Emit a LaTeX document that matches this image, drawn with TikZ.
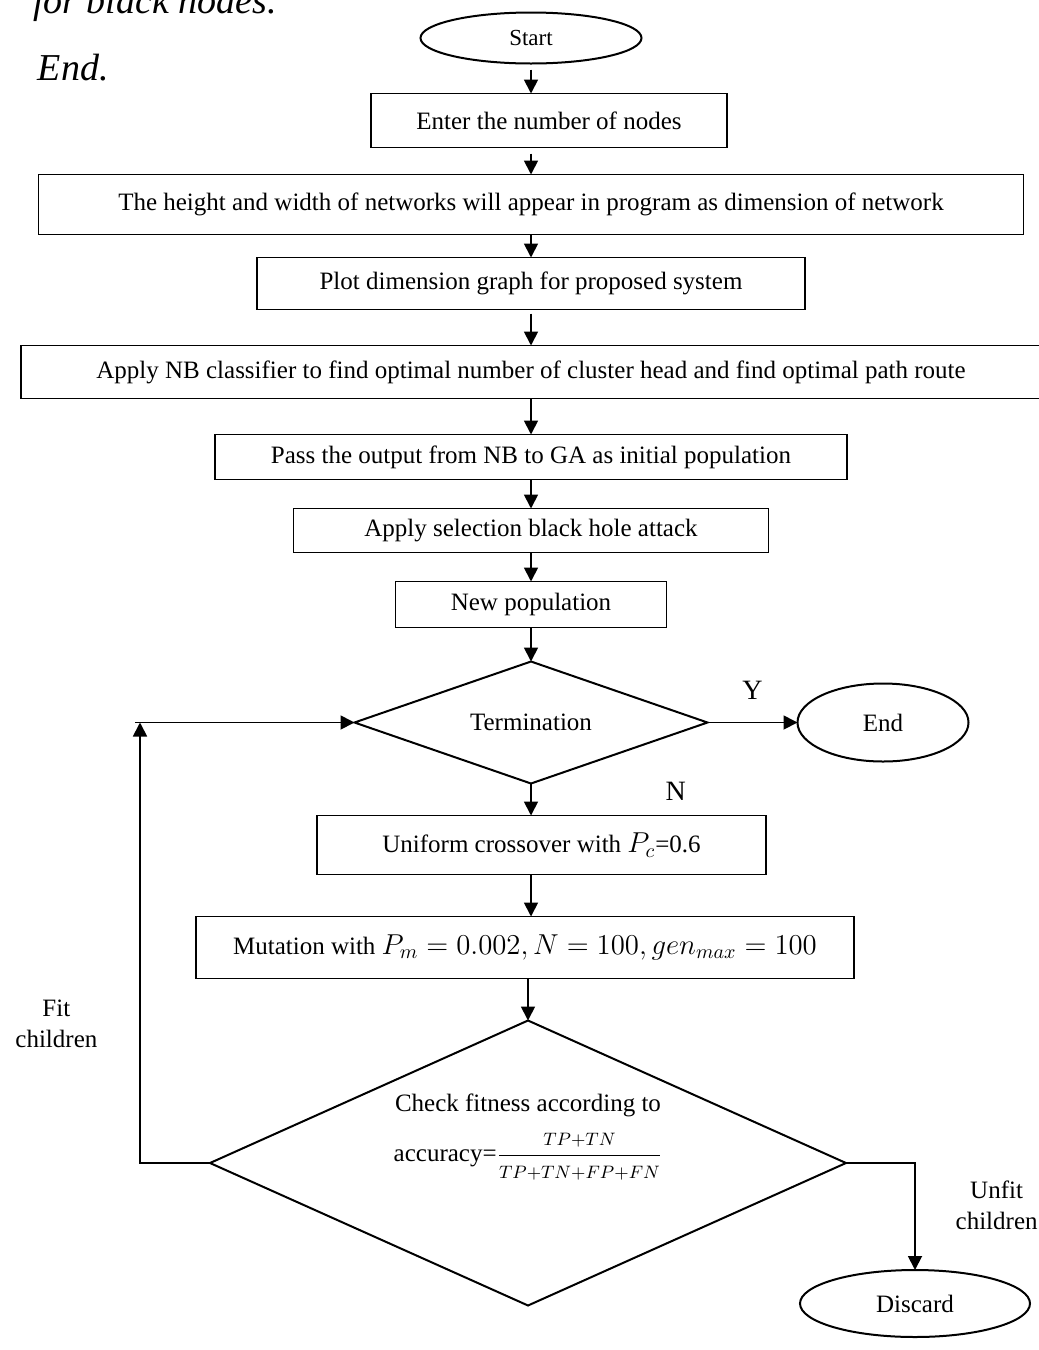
\documentclass[tikz,border=0pt]{standalone}
\usepackage{amsmath}
\usepackage{fontspec}
\setmainfont{Liberation Serif}
\usepackage{tikz}
\usetikzlibrary{arrows.meta,shapes.geometric,positioning,calc}
\newcommand{\mainsz}{\fontsize{12.5}{15.5}\selectfont}
\newcommand{\mathsz}{\fontsize{14}{16}\selectfont}

\begin{document}
\begin{tikzpicture}[
  every node/.style={outer sep=0pt},
  block/.style={rectangle, draw, line width=0.6pt, font=\mainsz,
                align=center, inner sep=2pt},
  decision/.style={diamond, draw, line width=1pt, aspect=3,
                   inner sep=0pt, font=\mainsz, align=center},
  terminal/.style={ellipse, draw, line width=1pt, inner sep=0pt,
                   font=\mainsz},
  arr/.style={-{Triangle[length=7pt,width=7pt]}, line width=0.9pt},
  lab/.style={font=\mainsz, align=center},
  yn/.style={font=\fontsize{14}{16}\selectfont},
  prev/.style={anchor=base west, inner sep=0pt,
               font=\fontsize{19}{22}\selectfont\itshape},
]
\useasboundingbox (0,0) rectangle (519.5pt,-675pt);

% tail of the text above the figure
\node[prev] (prevline) at (16.5pt,-6.5pt) {for black nodes.};
\node[prev] (prevend)  at (19pt,-40pt)   {End.};

\node[terminal, minimum width=110.5pt, minimum height=25.5pt,
      font=\fontsize{11.5}{13}\selectfont] (start) at (265.5pt,-19pt) {Start};
\node[block, below=15pt of start, xshift=9pt,
      minimum width=178pt, minimum height=27pt] (enter) {Enter the number of nodes};
\node[block, below=13.5pt of enter, xshift=-9pt,
      minimum width=492.5pt, minimum height=30pt] (dim)
      {The height and width of networks will appear in program as dimension of network};
\node[block, below=11.5pt of dim, minimum width=274pt, minimum height=26pt] (plot)
      {Plot dimension graph for proposed system};
\node[block, below=18pt of plot, minimum width=510pt, minimum height=26.5pt] (nb)
      {Apply NB classifier to find optimal number of cluster head and find optimal path route};
\node[block, below=18pt of nb, minimum width=316pt, minimum height=22.5pt] (pass)
      {Pass the output from NB to GA as initial population};
\node[block, below=14.5pt of pass, minimum width=237.5pt, minimum height=22pt] (sel)
      {Apply selection black hole attack};
\node[block, below=14.5pt of sel, minimum width=135.5pt, minimum height=23pt] (newpop)
      {New population};
\node[decision, below=17pt of newpop, minimum width=176.5pt, minimum height=61pt] (term)
      {Termination};
\node[terminal, right=45pt of term, minimum width=85.5pt, minimum height=39pt] (end) {End};
\node[block, below=16pt of term, xshift=5.25pt,
      minimum width=224.5pt, minimum height=29.5pt] (cross)
      {Uniform crossover with {\mathsz$P_c$}=0.6};
\node[block, below=21pt of cross, xshift=-8.25pt,
      minimum width=329pt, minimum height=31pt] (mut)
      {Mutation with {\mathsz$P_m = 0.002, N = 100, gen_{max} = 100$}};
\node[decision, below=21pt of mut, xshift=1.5pt,
      minimum width=318pt, minimum height=142.5pt] (check) {};
\node[lab] (checktxt) at ([yshift=13pt]check.center)
      {Check fitness according to\\[7pt]
       accuracy=$\dfrac{\scriptstyle TP+TN}{\scriptstyle TP+TN+FP+FN}$};
\node[terminal, below=53.5pt of check.east, xshift=34.5pt,
      minimum width=115pt, minimum height=33.5pt] (discard) {Discard};

\draw[arr, shorten <=3pt] (start.south) -- (start.south |- enter.north);
\draw[arr, shorten <=3pt] (start.south |- enter.south) -- (dim.north);
\draw[arr] (dim) -- (plot);
\draw[arr, shorten <=2pt] (plot) -- (nb);
\draw[arr] (nb) -- (pass);
\draw[arr] (pass) -- (sel);
\draw[arr] (sel) -- (newpop);
\draw[arr] (newpop) -- (term);
\draw[arr] (term.east) -- (end.west) node[midway, above=8pt, yn] {Y};
\draw[arr] (term.south) -- (term.south |- cross.north)
           node[pos=0.25, right=64pt, yn] {N};
\draw[arr] (term.south |- cross.south) -- (term.south |- mut.north);
\draw[arr] (check.north |- mut.south) -- (check.north);
% fit children go back to the termination test
\draw[arr] (check.west) -- ++(-35pt,0) coordinate (fitbend)
           -- (fitbend |- term.west) coordinate (fittop)
           node[lab, pos=0.315, left=18pt] {Fit\\children};
\draw[arr] ([xshift=-2.5pt]fittop) -- (term.west);
% unfit children are dropped
\draw[arr] (check.east) -| (discard.north)
           node[lab, pos=0.7, right=17pt] {Unfit\\children};
\end{tikzpicture}
\end{document}
